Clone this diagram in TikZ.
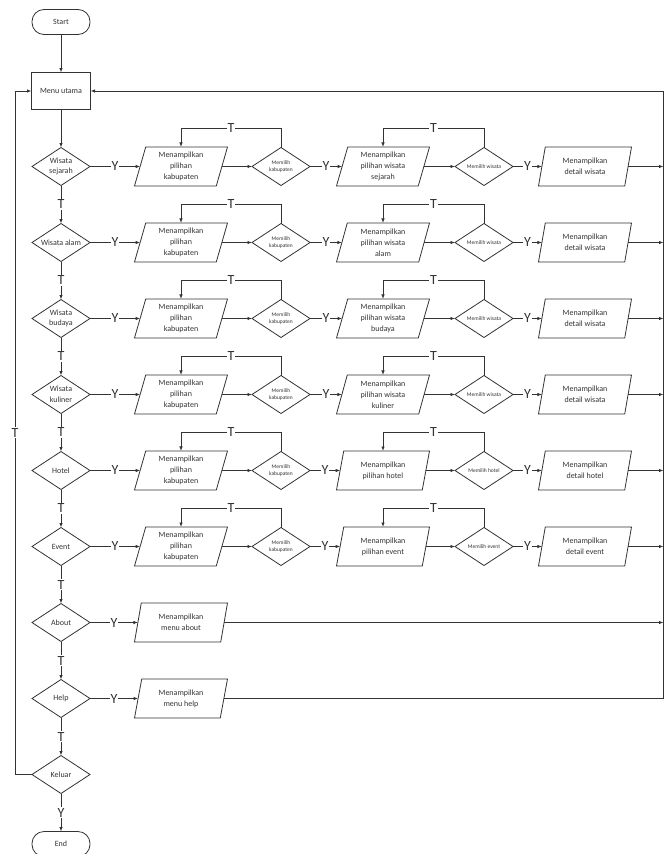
\documentclass[tikz,border=0pt]{standalone}
\usepackage{fontspec}
\setmainfont{Carlito}
\usetikzlibrary{shapes.geometric, arrows.meta, positioning}
\tikzset{
    >={Latex[length=4.5pt,width=3.5pt]},
    % Lines
    line/.style={draw=black!80, line width=0.8pt, outer sep=0pt},
    flow/.style={->, line},
    % Shapes
    term/.style={rectangle, rounded corners=12pt, line, text=black!80,
                 minimum width=58pt, minimum height=25pt, font=\fontsize{8}{10}\selectfont},
    proc/.style={rectangle, line, text=black!80,
                 minimum width=59pt, minimum height=37pt, font=\fontsize{8}{10}\selectfont},
    dec/.style={diamond, aspect=1.5, line, inner sep=0pt, text=black!80,
                minimum width=58pt, minimum height=38pt, align=center, font=\fontsize{8}{10.5}\selectfont},
    decs/.style={dec, font=\fontsize{5.5}{7.5}\selectfont},
    io/.style={trapezium, trapezium left angle=70, trapezium right angle=110, trapezium stretches body,
               line, inner sep=1pt, text=black!80, minimum width=93pt, minimum height=39pt,
               align=center, font=\fontsize{8}{11}\selectfont},
    % Labels
    lbl/.style={fill=white, inner sep=1pt, text=black!80, font=\fontsize{14}{14}\selectfont}
}
\begin{document}
\begin{tikzpicture}
\useasboundingbox (0,0) rectangle (670pt,-854pt);

% Kolom utama
\node[term] (start) at (61pt,-22pt) {Start};
\node[proc, below=38pt of start] (menu) {Menu utama};
\node[dec, below=38pt of menu] (sejarah) {Wisata\\sejarah};
\node[dec, below=38pt of sejarah] (alam) {Wisata alam};
\node[dec, below=38pt of alam] (budaya) {Wisata\\budaya};
\node[dec, below=38pt of budaya] (kuliner) {Wisata\\kuliner};
\node[dec, below=38pt of kuliner] (hotel) {Hotel};
\node[dec, below=38pt of hotel] (event) {Event};
\node[dec, below=38pt of event] (about) {About};
\node[dec, below=38pt of about] (help) {Help};
\node[dec, below=38pt of help] (keluar) {Keluar};
\node[term, below=38pt of keluar] (stop) {End};

\coordinate (rail) at ([xshift=573pt]menu.east);

\draw[flow] (start) -- (menu);
\draw[flow] (menu) -- (sejarah);
\draw[flow] (sejarah) -- node[lbl] {T} (alam);
\draw[flow] (alam) -- node[lbl] {T} (budaya);
\draw[flow] (budaya) -- node[lbl] {T} (kuliner);
\draw[flow] (kuliner) -- node[lbl] {T} (hotel);
\draw[flow] (hotel) -- node[lbl] {T} (event);
\draw[flow] (event) -- node[lbl] {T} (about);
\draw[flow] (about) -- node[lbl] {T} (help);
\draw[flow] (help) -- node[lbl] {T} (keluar);
\draw[flow] (keluar) -- node[lbl] {Y} (stop);
\draw[flow] (keluar.west) -- ++(-17pt,0) |- node[lbl, pos=0.25] {T} (menu.west);

% Wisata sejarah
\node[io] (kab1) at ([xshift=120pt]sejarah) {Menampilkan\\pilihan\\kabupaten};
\node[decs] (mk1) at ([xshift=100pt]kab1) {Memilih\\kabupaten};
\node[io] (pil1) at ([xshift=102pt]mk1) {Menampilkan\\pilihan wisata\\sejarah};
\node[decs] (mw1) at ([xshift=101pt]pil1) {Memilih wisata};
\node[io] (det1) at ([xshift=101pt]mw1) {Menampilkan\\detail wisata};

\draw[flow] (sejarah) -- node[lbl] {Y} (kab1);
\draw[flow] (kab1) -- (mk1);
\draw[flow] (mk1.north) -- ++(0,19pt) -| node[lbl, pos=0.25] {T} (kab1.north);
\draw[flow] (mk1) -- node[lbl] {Y} (pil1);
\draw[flow] (pil1) -- (mw1);
\draw[flow] (mw1.north) -- ++(0,19pt) -| node[lbl, pos=0.25] {T} (pil1.north);
\draw[flow] (mw1) -- node[lbl] {Y} (det1);
\draw[flow] (det1) -- (det1 -| rail);

% Wisata alam
\node[io] (kab2) at ([xshift=120pt]alam) {Menampilkan\\pilihan\\kabupaten};
\node[decs] (mk2) at ([xshift=100pt]kab2) {Memilih\\kabupaten};
\node[io] (pil2) at ([xshift=102pt]mk2) {Menampilkan\\pilihan wisata\\alam};
\node[decs] (mw2) at ([xshift=101pt]pil2) {Memilih wisata};
\node[io] (det2) at ([xshift=101pt]mw2) {Menampilkan\\detail wisata};

\draw[flow] (alam) -- node[lbl] {Y} (kab2);
\draw[flow] (kab2) -- (mk2);
\draw[flow] (mk2.north) -- ++(0,19pt) -| node[lbl, pos=0.25] {T} (kab2.north);
\draw[flow] (mk2) -- node[lbl] {Y} (pil2);
\draw[flow] (pil2) -- (mw2);
\draw[flow] (mw2.north) -- ++(0,19pt) -| node[lbl, pos=0.25] {T} (pil2.north);
\draw[flow] (mw2) -- node[lbl] {Y} (det2);
\draw[flow] (det2) -- (det2 -| rail);

% Wisata budaya
\node[io] (kab3) at ([xshift=120pt]budaya) {Menampilkan\\pilihan\\kabupaten};
\node[decs] (mk3) at ([xshift=100pt]kab3) {Memilih\\kabupaten};
\node[io] (pil3) at ([xshift=102pt]mk3) {Menampilkan\\pilihan wisata\\budaya};
\node[decs] (mw3) at ([xshift=101pt]pil3) {Memilih wisata};
\node[io] (det3) at ([xshift=101pt]mw3) {Menampilkan\\detail wisata};

\draw[flow] (budaya) -- node[lbl] {Y} (kab3);
\draw[flow] (kab3) -- (mk3);
\draw[flow] (mk3.north) -- ++(0,19pt) -| node[lbl, pos=0.25] {T} (kab3.north);
\draw[flow] (mk3) -- node[lbl] {Y} (pil3);
\draw[flow] (pil3) -- (mw3);
\draw[flow] (mw3.north) -- ++(0,19pt) -| node[lbl, pos=0.25] {T} (pil3.north);
\draw[flow] (mw3) -- node[lbl] {Y} (det3);
\draw[flow] (det3) -- (det3 -| rail);

% Wisata kuliner
\node[io] (kab4) at ([xshift=120pt]kuliner) {Menampilkan\\pilihan\\kabupaten};
\node[decs] (mk4) at ([xshift=100pt]kab4) {Memilih\\kabupaten};
\node[io] (pil4) at ([xshift=102pt]mk4) {Menampilkan\\pilihan wisata\\kuliner};
\node[decs] (mw4) at ([xshift=101pt]pil4) {Memilih wisata};
\node[io] (det4) at ([xshift=101pt]mw4) {Menampilkan\\detail wisata};

\draw[flow] (kuliner) -- node[lbl] {Y} (kab4);
\draw[flow] (kab4) -- (mk4);
\draw[flow] (mk4.north) -- ++(0,19pt) -| node[lbl, pos=0.25] {T} (kab4.north);
\draw[flow] (mk4) -- node[lbl] {Y} (pil4);
\draw[flow] (pil4) -- (mw4);
\draw[flow] (mw4.north) -- ++(0,19pt) -| node[lbl, pos=0.25] {T} (pil4.north);
\draw[flow] (mw4) -- node[lbl] {Y} (det4);
\draw[flow] (det4) -- (det4 -| rail);

% Hotel
\node[io] (kab5) at ([xshift=120pt]hotel) {Menampilkan\\pilihan\\kabupaten};
\node[decs] (mk5) at ([xshift=100pt]kab5) {Memilih\\kabupaten};
\node[io] (pil5) at ([xshift=102pt]mk5) {Menampilkan\\pilihan hotel};
\node[decs] (mw5) at ([xshift=101pt]pil5) {Memilih hotel};
\node[io] (det5) at ([xshift=101pt]mw5) {Menampilkan\\detail hotel};

\draw[flow] (hotel) -- node[lbl] {Y} (kab5);
\draw[flow] (kab5) -- (mk5);
\draw[flow] (mk5.north) -- ++(0,19pt) -| node[lbl, pos=0.25] {T} (kab5.north);
\draw[flow] (mk5) -- node[lbl] {Y} (pil5);
\draw[flow] (pil5) -- (mw5);
\draw[flow] (mw5.north) -- ++(0,19pt) -| node[lbl, pos=0.25] {T} (pil5.north);
\draw[flow] (mw5) -- node[lbl] {Y} (det5);
\draw[flow] (det5) -- (det5 -| rail);

% Event
\node[io] (kab6) at ([xshift=120pt]event) {Menampilkan\\pilihan\\kabupaten};
\node[decs] (mk6) at ([xshift=100pt]kab6) {Memilih\\kabupaten};
\node[io] (pil6) at ([xshift=102pt]mk6) {Menampilkan\\pilihan event};
\node[decs] (mw6) at ([xshift=101pt]pil6) {Memilih event};
\node[io] (det6) at ([xshift=101pt]mw6) {Menampilkan\\detail event};

\draw[flow] (event) -- node[lbl] {Y} (kab6);
\draw[flow] (kab6) -- (mk6);
\draw[flow] (mk6.north) -- ++(0,19pt) -| node[lbl, pos=0.25] {T} (kab6.north);
\draw[flow] (mk6) -- node[lbl] {Y} (pil6);
\draw[flow] (pil6) -- (mw6);
\draw[flow] (mw6.north) -- ++(0,19pt) -| node[lbl, pos=0.25] {T} (pil6.north);
\draw[flow] (mw6) -- node[lbl] {Y} (det6);
\draw[flow] (det6) -- (det6 -| rail);

% About dan Help
\node[io] (abt) at ([xshift=120pt]about) {Menampilkan\\menu about};
\node[io] (hlp) at ([xshift=120pt]help) {Menampilkan\\menu help};

\draw[flow] (about) -- node[lbl] {Y} (abt);
\draw[flow] (abt) -- (abt -| rail);
\draw[flow] (help) -- node[lbl] {Y} (hlp);
\draw[flow] (hlp) -| (rail) -- (menu);

\end{tikzpicture}
\end{document}
